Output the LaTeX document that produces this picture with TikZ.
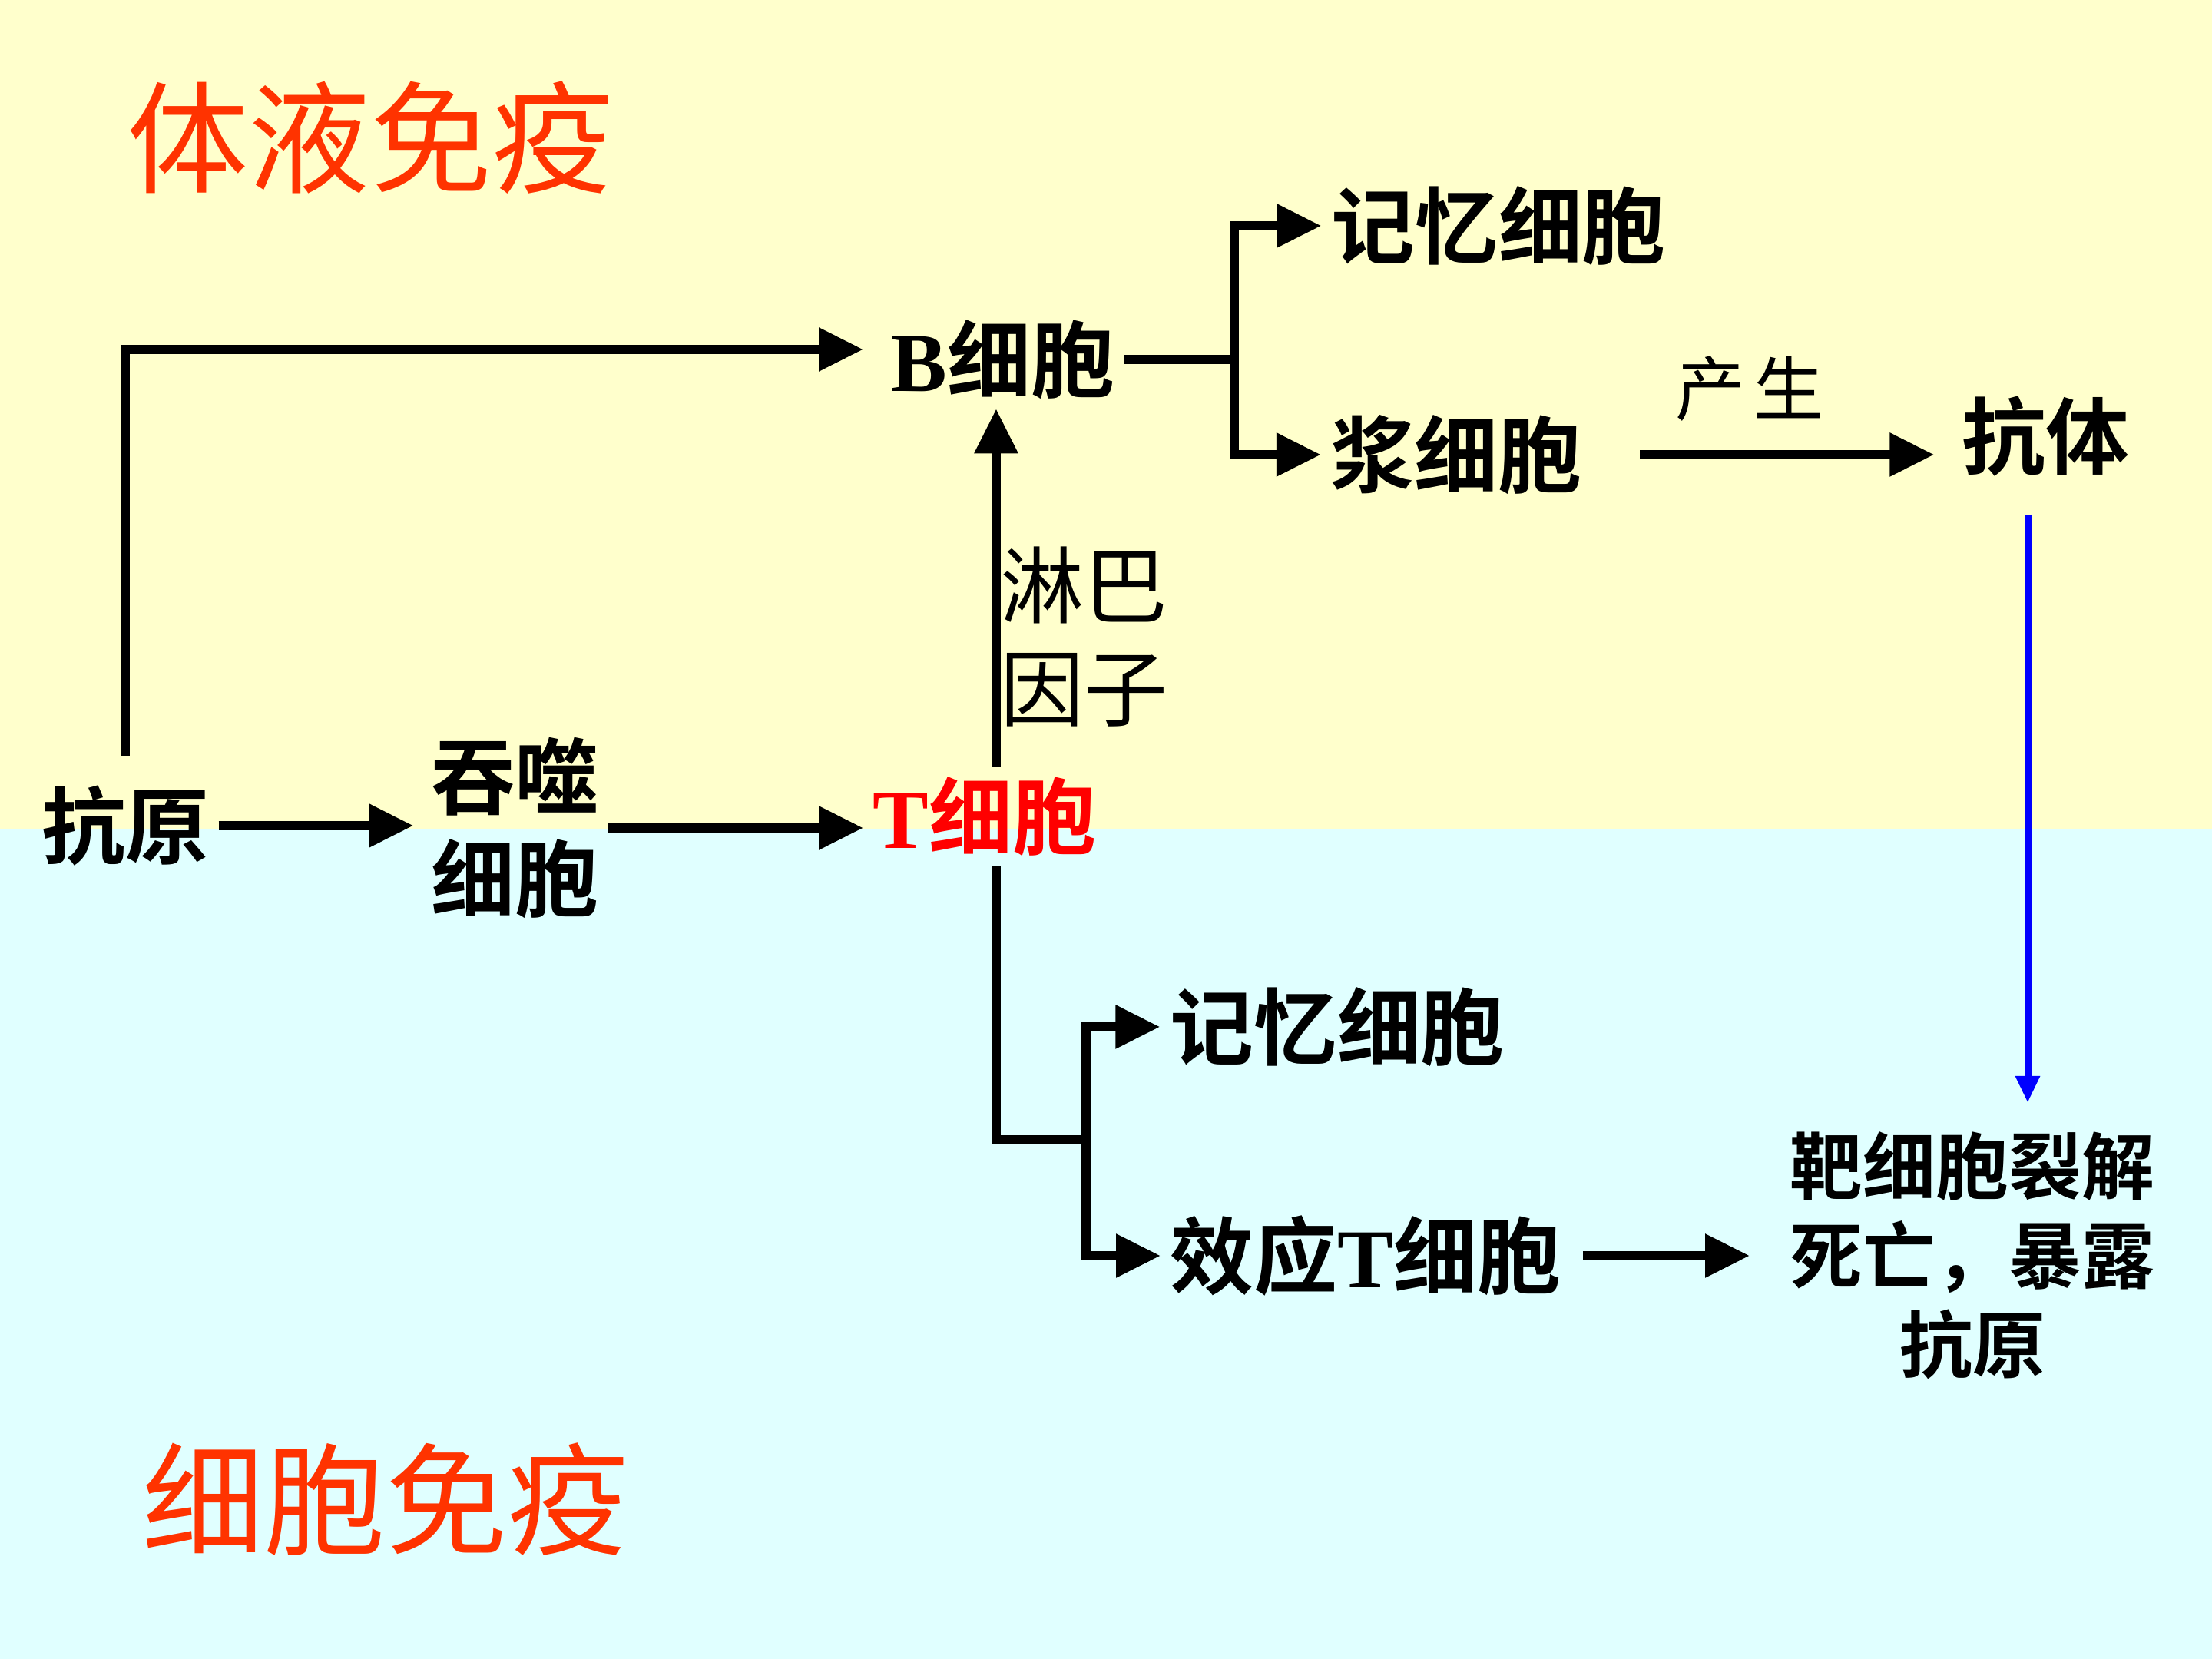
\documentclass[tikz,border=0pt]{standalone}
\usepackage{fontspec}
\setmainfont{Liberation Serif}
\newfontfamily\cjk{Noto Sans CJK SC}[BoldFont={Noto Sans CJK SC Bold}]
\usetikzlibrary{arrows.meta,positioning}
\definecolor{bgyellow}{HTML}{FFFFCC}
\definecolor{bgcyan}{HTML}{E0FFFF}
\definecolor{titlered}{HTML}{FF3300}
\definecolor{cellred}{HTML}{FF0000}
\definecolor{linkblue}{HTML}{0000FF}
\newcommand{\lat}[1]{{\rmfamily\bfseries #1}}
\tikzset{
  cell/.style={font=\cjk\bfseries\fontsize{31}{38}\selectfont, align=center, inner sep=1.2mm},
  note/.style={font=\cjk\fontsize{31}{38}\selectfont, align=left, inner sep=1mm},
  headline/.style={font=\cjk\fontsize{45}{54}\selectfont, text=titlered, inner sep=0pt},
  lab/.style={font=\cjk\fontsize{26}{30}\selectfont, inner sep=1mm},
  wire/.style={line width=1.2mm},
  arr/.style={wire, -{Triangle[length=5.8mm,width=5.4mm]}},
  barr/.style={line width=0.9mm, draw=linkblue, -{Triangle[length=3.5mm,width=3mm]}},
}
\begin{document}
\begin{tikzpicture}
  \fill[bgyellow] (0,10.8) rectangle (28.8,21.6);
  \fill[bgcyan] (0,0) rectangle (28.8,10.8);
  \useasboundingbox (0,0) rectangle (28.8,21.6);
  % titles
  \node[headline] (hum) at (4.82,19.81) {体液免疫};
  \node[headline] (cel) at (5.02,2.08) {细胞免疫};
  % cells
  \node[cell] (ag) at (1.63,10.85) {抗原};
  \node[cell] (ph) at (6.70,10.82) {吞噬\\细胞};
  \node[cell, text=cellred] (tc) at (12.82,10.97) {\lat{T}细胞};
  \node[cell] (bc) at (13.06,16.92) {\lat{B}细胞};
  \node[cell] (m1) at (19.51,18.66) {记忆细胞};
  \node[cell] (pl) at (18.96,15.68) {浆细胞};
  \node[cell] (ab) at (26.63,15.92) {抗体};
  \node[note] (lf) at (14.11,13.31) {淋巴\\因子};
  \node[cell] (m2) at (17.41,8.23) {记忆细胞};
  \node[cell] (ef) at (17.78,5.25) {效应\lat{T}细胞};
  \node[cell, font=\cjk\bfseries\fontsize{27}{33}\selectfont] (tg) at (25.68,5.25) {靶细胞裂解\\死亡，暴露\\抗原};
  \coordinate (tj) at (14.14,6.76);
  % arrows
  \draw[arr, shorten >=1mm] (ag.east) -- (ag.east -| ph.west);
  \draw[arr] (ph.east) -- (ph.east -| tc.west);
  \draw[arr, shorten >=2.4mm] ([yshift=2.6mm]ag.north) |- ([yshift=1.3mm]bc.west);
  \draw[arr] ([xshift=1.5mm]tc.north) -- ([xshift=1.5mm]tc.north |- bc.south);
  \draw[arr] (bc.east) -- ++(1.43,0) |- (m1.west);
  \draw[arr] (bc.east) -- ++(1.43,0) |- (pl.west);
  \draw[arr, shorten <=6.3mm, shorten >=2.3mm] (pl.east) -- node[lab, above=2.8mm, pos=0.44]{产\hspace{0.12em}生} (pl.east -| ab.west);
  \draw[wire] ([xshift=1.5mm]tc.south) |- (tj);
  \draw[arr] (tj) |- (m2.west);
  \draw[arr] (tj) |- (ef.west);
  \draw[arr, shorten <=1.6mm, shorten >=4mm] (ef.east) -- (ef.east -| tg.west);
  \draw[barr] ([xshift=-2.3mm,yshift=-3.7mm]ab.south) -- ++(0,-7.66);
\end{tikzpicture}
\end{document}
